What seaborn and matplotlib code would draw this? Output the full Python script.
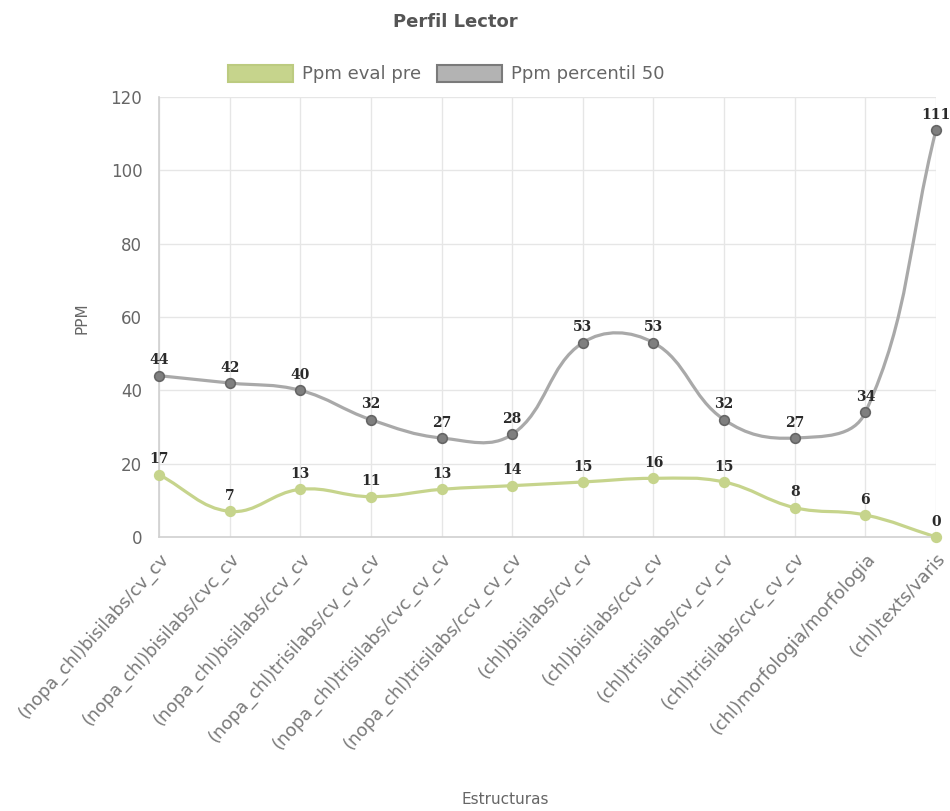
import numpy as np
import pandas as pd
import seaborn as sns
import matplotlib.pyplot as plt
from matplotlib.path import Path
from matplotlib.patches import PathPatch, Patch

estructuras = ['(nopa_chl)bisilabs/cv_cv', '(nopa_chl)bisilabs/cvc_cv', '(nopa_chl)bisilabs/ccv_cv',
               '(nopa_chl)trisilabs/cv_cv_cv', '(nopa_chl)trisilabs/cvc_cv_cv', '(nopa_chl)trisilabs/ccv_cv_cv',
               '(chl)bisilabs/cv_cv', '(chl)bisilabs/ccv_cv', '(chl)trisilabs/cv_cv_cv',
               '(chl)trisilabs/cvc_cv_cv', '(chl)morfologia/morfologia', '(chl)texts/varis']
ppm_eval_pre = [17, 7, 13, 11, 13, 14, 15, 16, 15, 8, 6, 0]
ppm_percentil_50 = [44, 42, 40, 32, 27, 28, 53, 53, 32, 27, 34, 111]
y_ticks = [0, 20, 40, 60, 80, 100, 120]

verde = '#c6d48c'
gris = '#a9a9a9'

sns.set_style('whitegrid')
plt.rcParams['font.family'] = ['DejaVu Sans']

fig = plt.figure(figsize=(9.5, 8.11), dpi=100)
ax = fig.add_axes([159 / 950, 1 - 537 / 811, 777 / 950, 440 / 811])

df = pd.DataFrame({'x': range(len(estructuras)), 'pre': ppm_eval_pre, 'p50': ppm_percentil_50})

ax.set_xlim(0, len(estructuras) - 1)
ax.set_ylim(0, 120)


# curva tipo Chart.js (tension 0.4), calculada en pixeles
def curva(xs, ys, sx, sy, t=0.4):
    px = np.asarray(xs, float) * sx
    py = np.asarray(ys, float) * sy
    n = len(px)
    prev_cp, next_cp = [], []
    for i in range(n):
        a, b = max(i - 1, 0), min(i + 1, n - 1)
        d01 = np.hypot(px[i] - px[a], py[i] - py[a])
        d12 = np.hypot(px[b] - px[i], py[b] - py[i])
        tot = d01 + d12
        s01 = d01 / tot if tot else 0
        s12 = d12 / tot if tot else 0
        dx, dy = px[b] - px[a], py[b] - py[a]
        prev_cp.append((px[i] - t * s01 * dx, py[i] - t * s01 * dy))
        next_cp.append((px[i] + t * s12 * dx, py[i] + t * s12 * dy))
    verts = [(px[0], py[0])]
    codes = [Path.MOVETO]
    for i in range(n - 1):
        verts += [next_cp[i], prev_cp[i + 1], (px[i + 1], py[i + 1])]
        codes += [Path.CURVE4] * 3
    verts = np.array(verts)
    verts[:, 0] /= sx
    verts[:, 1] /= sy
    return Path(verts, codes)


sx = 777 / (len(estructuras) - 1)
sy = 440 / 120
for col, color in [('p50', gris), ('pre', verde)]:
    ax.add_patch(PathPatch(curva(df['x'], df[col], sx, sy), facecolor='none',
                           edgecolor=color, lw=2.3, zorder=2, capstyle='round', clip_on=False))

sns.scatterplot(data=df, x='x', y='p50', ax=ax, color='#7f7f7f', edgecolor='#666666',
                linewidth=1.2, s=48, zorder=3, clip_on=False)
sns.scatterplot(data=df, x='x', y='pre', ax=ax, color=verde, edgecolor=verde,
                linewidth=1.2, s=48, zorder=3, clip_on=False)

for col in ['p50', 'pre']:
    for x, y in zip(df['x'], df[col]):
        ax.annotate(str(y), (x, y), xytext=(0, 6), textcoords='offset points',
                    ha='center', va='bottom', fontsize=10, family='DejaVu Serif',
                    weight='bold', color='#2a2a2a', zorder=4)

ax.set_xticks(range(len(estructuras)))
ax.set_xticklabels(estructuras, rotation=48, ha='right', va='top',
                   rotation_mode='anchor', fontsize=12.8, color='#7a7a7a')
ax.set_yticks(y_ticks)
ax.set_yticklabels([str(v) for v in y_ticks], fontsize=12, color='#666666')
ax.tick_params(axis='both', length=8, color='#e3e3e3', width=1, pad=4)
ax.tick_params(axis='x', pad=1)
ax.grid(color='#e6e6e6', lw=1)
for s in ['top', 'right']:
    ax.spines[s].set_visible(False)
for s in ['left', 'bottom']:
    ax.spines[s].set_color('#d0d0d0')
    ax.spines[s].set_linewidth(1.2)
ax.set_xlabel('')
ax.set_ylabel('')

fig.text(82 / 950, 1 - 318 / 811, 'PPM', rotation=90, ha='center', va='center',
         fontsize=11, color='#666666')
fig.text(505 / 950, 1 - 800 / 811, 'Estructuras', ha='center', va='center',
         fontsize=11, color='#666666')
fig.text(455 / 950, 1 - 22 / 811, 'Perfil Lector', ha='center', va='center',
         fontsize=13, weight='bold', color='#555555')

handles = [Patch(facecolor=verde, edgecolor='#bccb80', lw=1.5, label='Ppm eval pre'),
           Patch(facecolor='#b3b3b3', edgecolor='#7a7a7a', lw=1.5, label='Ppm percentil 50')]
leg = fig.legend(handles=handles, loc='center', bbox_to_anchor=(446 / 950, 1 - 74 / 811),
                 ncol=2, frameon=False, fontsize=13, handlelength=3.6, handleheight=1.1,
                 handletextpad=0.5, columnspacing=0.9)
for t in leg.get_texts():
    t.set_color('#666666')

fig.savefig('out.png', dpi=100, facecolor='white')
